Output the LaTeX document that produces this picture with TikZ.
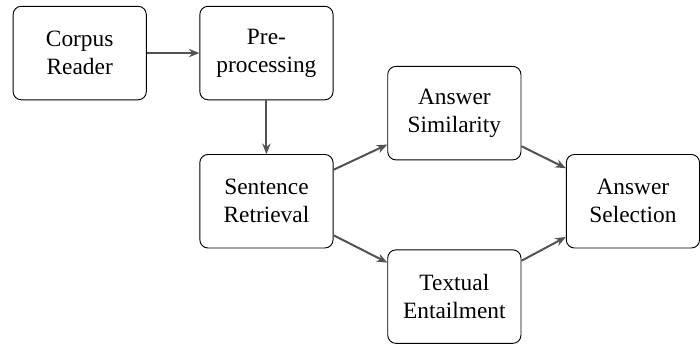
\documentclass[tikz,border=0pt]{standalone}
\usepackage{fontspec}
\setmainfont{Liberation Serif}
\usetikzlibrary{arrows.meta, positioning, calc}

\begin{document}
\begin{tikzpicture}[
    node distance=23pt,
    block/.style={rectangle, draw, thin, rounded corners=3.5pt, align=center, minimum width=57pt, minimum height=40pt},
    arrow/.style={-{Stealth[length=4.5pt, width=3.6pt]}, line width=0.85pt, black!68}
]

% Nodes
\node (corpus) [block] {Corpus\\Reader};
\node (prep) [block, right=22.5pt of corpus] {Pre-\\processing};
\node (sentence) [block, below=of prep] {Sentence\\Retrieval};
\node (simil) [block, right=of sentence, yshift=37.7pt] {Answer\\Similarity};
\node (entail) [block, right=of sentence, yshift=-40.8pt] {Textual\\Entailment};
\node (select) [block, right=19pt of simil, yshift=-37.7pt] {Answer\\Selection};

% Frame
\useasboundingbox ($(corpus.north west)+(-5.4pt,2.5pt)$) rectangle ++(291.67pt,-146.67pt);

% Paths
\draw [arrow] (corpus) -- (prep);
\draw [arrow] (prep) -- (sentence);
\draw [arrow] (sentence) -- (simil);
\draw [arrow] (sentence) -- (entail);
\draw [arrow] (simil) -- (select);
\draw [arrow] (entail) -- (select);

\end{tikzpicture}
\end{document}
